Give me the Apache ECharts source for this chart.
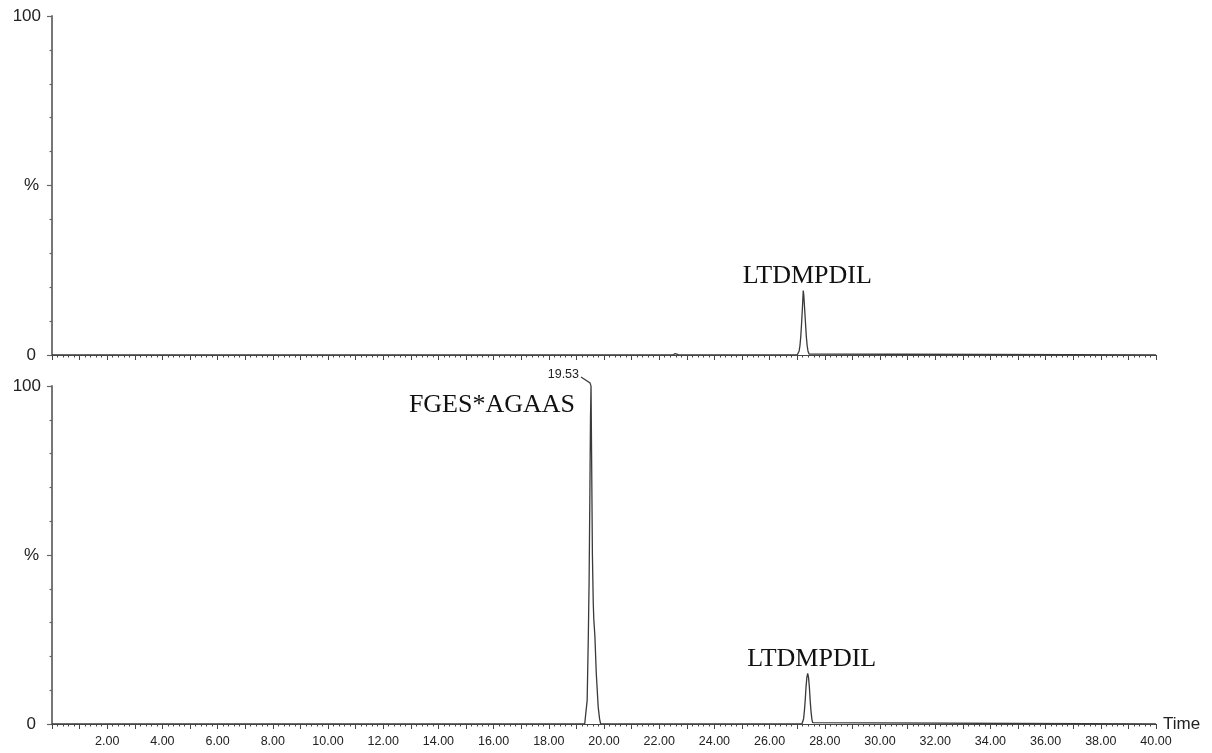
<!DOCTYPE html>
<html>
<head>
<meta charset="utf-8">
<title>Chromatograms</title>
<script src="https://cdn.jsdelivr.net/npm/echarts@6/dist/echarts.min.js"></script>
<style>
  html, body { margin: 0; padding: 0; background: #fff; }
  #chart { width: 1212px; height: 753px; }
</style>
</head>
<body>
<div id="chart"></div>
<script>
// Retention time (min) / relative intensity (%) pairs for each trace
const topTrace = [
  [0, 0], [22.50, 0], [22.58, 0.4], [22.66, 0.2], [22.74, 0],
  [27.00, 0], [27.04, 0.3], [27.07, 1.2], [27.10, 2.8], [27.13, 5.5], [27.16, 9.5],
  [27.19, 14], [27.21, 17.5], [27.22, 19], [27.24, 17.5], [27.27, 13.5], [27.30, 9.5],
  [27.33, 5.5], [27.36, 2.8], [27.39, 1.2], [27.43, 0.3], [27.47, 0],
  [40, 0]
];
const bottomTrace = [
  [0, 0], [19.30, 0], [19.37, 0.3], [19.39, 7], [19.43, 25], [19.46, 42],
  [19.49, 70], [19.51, 90], [19.53, 100], [19.55, 80], [19.58, 50], [19.61, 36],
  [19.63, 31], [19.67, 26], [19.72, 15], [19.79, 5], [19.84, 1.5], [19.88, 0],
  [27.17, 0], [27.20, 0.4], [27.23, 1.5], [27.26, 3.8], [27.29, 7], [27.32, 11],
  [27.35, 13.8], [27.38, 15], [27.41, 13.8], [27.44, 11], [27.47, 7], [27.50, 3.8],
  [27.53, 1.5], [27.56, 0.4], [27.60, 0],
  [40, 0]
];

// Peak annotations: [time, intensity, text]
const topPeaks = [[27.22, 19, 'LTDMPDIL']];
const bottomPeaks = [[19.53, 100, 'FGES*AGAAS'], [27.38, 15, 'LTDMPDIL']];
const apexTime = [19.53, 100, '19.53'];

// Axis settings
const timeMin = 0, timeMax = 40, timeStep = 1;
const pctLabels = { 0: '{z|0}', 50: '{p|%}', 100: '100' };

const SANS = '"Liberation Sans", Arial, sans-serif';
const SERIF = '"Liberation Serif", "Times New Roman", serif';

const chart = echarts.init(document.getElementById('chart'), null, { renderer: 'canvas' });

function xAxisCfg(gridIndex, showLabels) {
  return {
    type: 'value', gridIndex: gridIndex, z: 5,
    min: timeMin, max: timeMax, interval: timeStep,
    name: showLabels ? 'Time' : '',
    nameLocation: 'end', nameGap: 7,
    nameTextStyle: { fontFamily: SANS, fontSize: 17, color: '#222', verticalAlign: 'middle', padding: [0, 0, 3, 0] },
    axisLine: { show: true, lineStyle: { color: '#444', width: 1.2 } },
    axisTick: { show: true, inside: false, length: 5, lineStyle: { color: '#444', width: 1 } },
    minorTick: { show: true, splitNumber: 5, length: 2.5, lineStyle: { color: '#444', width: 1 } },
    splitLine: { show: false },
    axisLabel: {
      show: showLabels, margin: 11, fontFamily: SANS, fontSize: 12.5, color: '#222',
      hideOverlap: false,
      formatter: v => (v > 0 && Math.round(v) % 2 === 0) ? v.toFixed(2) : ''
    }
  };
}

function yAxisCfg(gridIndex) {
  return {
    type: 'value', gridIndex: gridIndex,
    min: 0, max: 100, interval: 50,
    axisLine: { show: true, lineStyle: { color: '#777', width: 2 } },
    axisTick: { show: true, length: 5, lineStyle: { color: '#666', width: 1.2 } },
    minorTick: { show: true, splitNumber: 5, length: 2.5, lineStyle: { color: '#666', width: 1.2 } },
    splitLine: { show: false },
    axisLabel: {
      margin: 11, fontFamily: SANS, fontSize: 17, color: '#222',
      formatter: v => pctLabels[v] !== undefined ? pctLabels[v] : '',
      rich: {
        z: { fontFamily: SANS, fontSize: 17, color: '#222', padding: [0, 5, 0, 0] },
        p: { fontFamily: SANS, fontSize: 17, color: '#222', padding: [0, 2, 0, 0] }
      }
    }
  };
}

function peakMarks(peaks) {
  return {
    symbol: 'circle', symbolSize: 0, silent: true,
    data: peaks.map(p => ({
      coord: [p[0], p[1]],
      label: {
        show: true, formatter: p[2], fontFamily: SERIF, fontSize: 26, color: '#111',
        position: p[2] === 'FGES*AGAAS' ? [-16, 32] : [4, -1],
        align: p[2] === 'FGES*AGAAS' ? 'right' : 'center',
        verticalAlign: 'bottom'
      }
    }))
  };
}

const lineStyle = { color: '#3a3a3a', width: 1.3 };

const option = {
  animation: false,
  backgroundColor: '#fff',
  grid: [
    { left: 52, right: 56, top: 16, height: 339 },
    { left: 52, right: 56, top: 386, height: 338 }
  ],
  xAxis: [xAxisCfg(0, false), xAxisCfg(1, true)],
  yAxis: [yAxisCfg(0), yAxisCfg(1)],
  series: [
    {
      type: 'line', xAxisIndex: 0, yAxisIndex: 0, data: topTrace,
      showSymbol: false, lineStyle: lineStyle, clip: false,
      markPoint: peakMarks(topPeaks)
    },
    {
      type: 'line', xAxisIndex: 1, yAxisIndex: 1, data: bottomTrace,
      showSymbol: false, lineStyle: lineStyle, clip: false,
      markPoint: {
        symbol: 'circle', symbolSize: 0, silent: true,
        data: peakMarks(bottomPeaks).data.concat([{
          coord: [apexTime[0], apexTime[1]],
          label: {
            show: true, formatter: apexTime[2], fontFamily: SANS, fontSize: 12.5, color: '#222',
            position: [-12, -5], align: 'right', verticalAlign: 'bottom'
          }
        }])
      }
    }
  ]
};

chart.setOption(option);

// Leader tick joining the apex retention-time label to the peak top
const apex = chart.convertToPixel({ xAxisIndex: 1, yAxisIndex: 1 }, [apexTime[0], apexTime[1]]);
chart.setOption({
  graphic: [{
    type: 'polyline', silent: true,
    shape: { points: [[apex[0] - 10, apex[1] - 9], [apex[0] - 1, apex[1] - 3], [apex[0], apex[1]]] },
    style: { stroke: '#3a3a3a', lineWidth: 1.2, fill: null }
  }]
});
</script>
</body>
</html>
